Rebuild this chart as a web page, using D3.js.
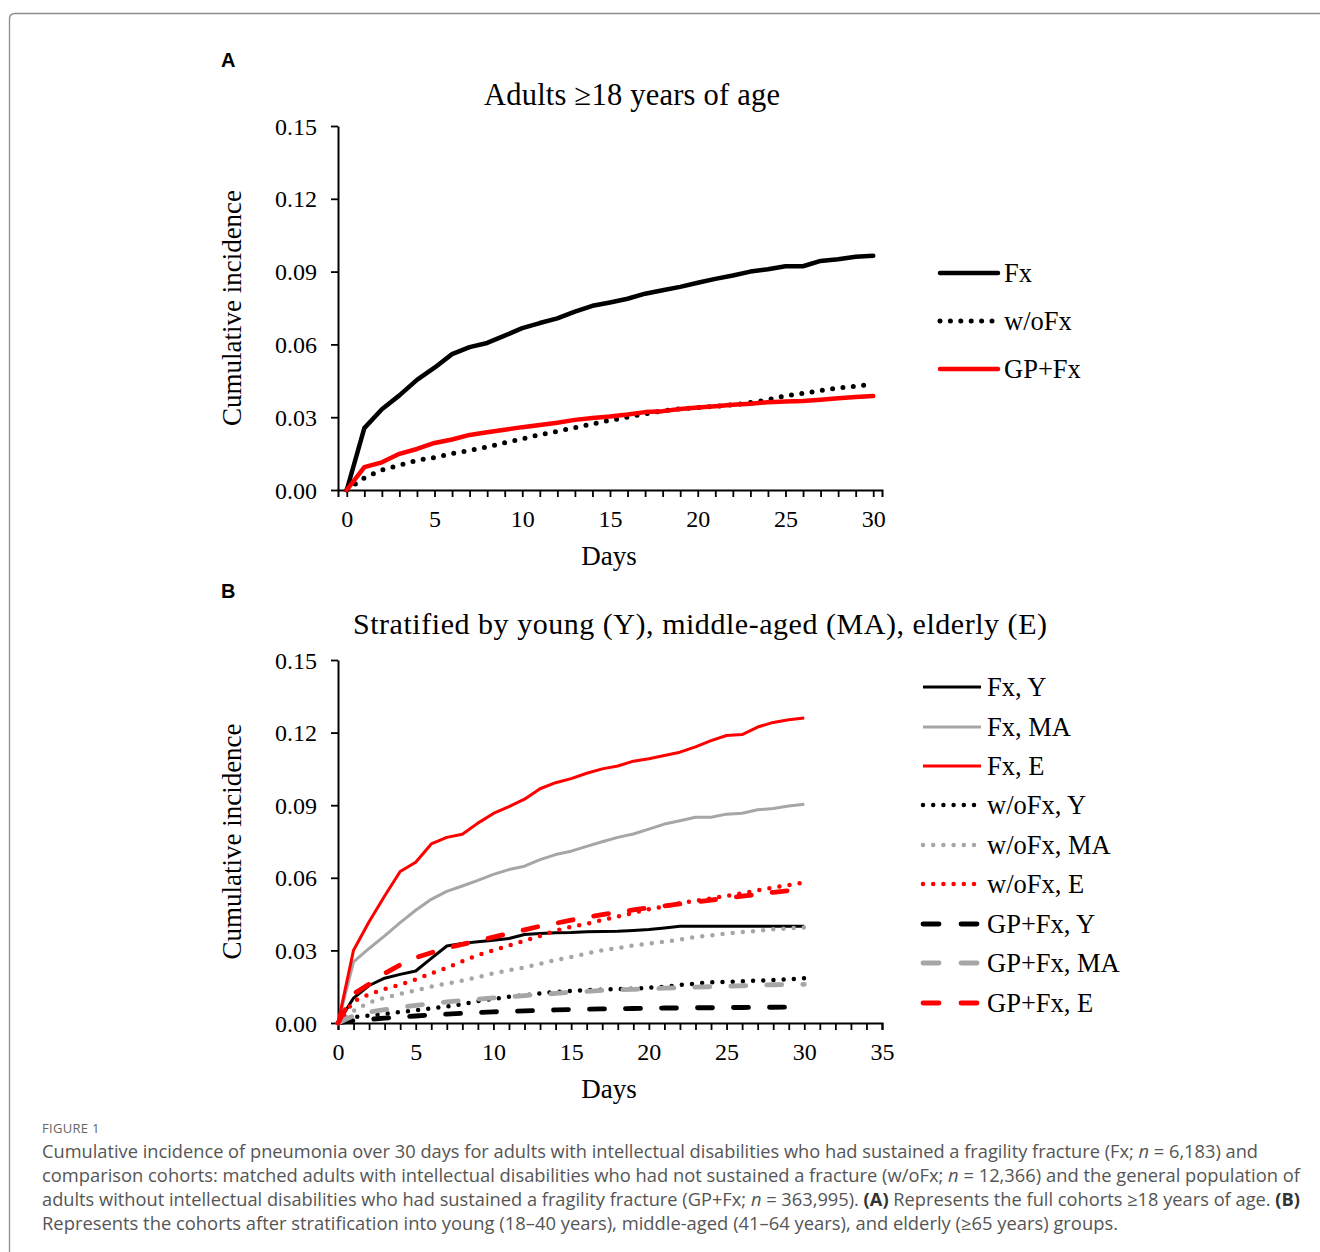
<!DOCTYPE html>
<html><head><meta charset="utf-8">
<script src="https://cdn.jsdelivr.net/npm/d3@7"></script>
<style>
body{margin:0;background:#fff;}
svg{display:block;}
</style></head>
<body>
<svg id="fig" width="1320" height="1252"></svg>
<script>
// ---------- DATA ----------
const days = [0,1,2,3,4,5,6,7,8,9,10,11,12,13,14,15,16,17,18,19,20,21,22,23,24,25,26,27,28,29,30];
const yTicks = [0, 0.03, 0.06, 0.09, 0.12, 0.15];
const xTicksA = [0,5,10,15,20,25,30];
const xTicksB = [0,5,10,15,20,25,30,35];

// Panel A
const seriesNamesA = ["Fx","w/oFx","GP+Fx"];
const fxAll   = [0,0.0255,0.0333,0.039,0.0454,0.0504,0.056,0.0589,0.0606,0.0636,0.0667,0.0688,0.0707,0.0735,0.0759,0.0773,0.0788,0.0809,0.0823,0.0837,0.0854,0.087,0.0884,0.090,0.091,0.0922,0.0922,0.0944,0.0951,0.0961,0.0965];
const wofxAll = [0,0.005,0.0082,0.0102,0.0122,0.0134,0.015,0.0163,0.0177,0.0195,0.021,0.0228,0.0242,0.0257,0.0272,0.0287,0.030,0.0314,0.0326,0.0335,0.034,0.0345,0.0351,0.036,0.0372,0.0388,0.0398,0.041,0.042,0.0428,0.0435];
const gpfxAll = [0,0.0094,0.0114,0.0149,0.0169,0.0194,0.0208,0.0227,0.0238,0.0248,0.0259,0.0268,0.0277,0.0289,0.0297,0.0303,0.0311,0.0321,0.0325,0.0334,0.034,0.0345,0.0351,0.0355,0.0362,0.0365,0.0367,0.0372,0.0378,0.0383,0.0387];

// Panel B
const seriesNamesB = ["Fx, Y","Fx, MA","Fx, E","w/oFx, Y","w/oFx, MA","w/oFx, E","GP+Fx, Y","GP+Fx, MA","GP+Fx, E"];
const fxY   = [0,0.0103,0.0155,0.0185,0.0201,0.0215,0.0267,0.0318,0.0329,0.0336,0.0342,0.0349,0.0366,0.037,0.0373,0.0374,0.0377,0.0378,0.0379,0.0382,0.0386,0.0393,0.040,0.040,0.040,0.040,0.040,0.040,0.040,0.040,0.040];
const fxMA  = [0,0.0253,0.0308,0.036,0.0415,0.0466,0.0511,0.0544,0.0566,0.0589,0.0614,0.0634,0.0648,0.0675,0.0696,0.071,0.073,0.0749,0.0767,0.0781,0.0801,0.0822,0.0836,0.085,0.085,0.0863,0.0867,0.0881,0.0886,0.0897,0.0904];
const fxE   = [0,0.0301,0.0418,0.0525,0.0626,0.0664,0.074,0.0767,0.078,0.0826,0.0866,0.0894,0.0925,0.0968,0.0993,0.101,0.1032,0.105,0.1062,0.1082,0.1092,0.1105,0.1119,0.1141,0.1167,0.1188,0.1192,0.1223,0.1242,0.1253,0.126];
const wofxY = [0,0.0025,0.003,0.0038,0.0045,0.0052,0.006,0.0068,0.0078,0.009,0.010,0.0108,0.0115,0.0122,0.0128,0.0133,0.0136,0.0138,0.014,0.0142,0.0146,0.015,0.0157,0.0163,0.0168,0.017,0.0172,0.0175,0.0178,0.0181,0.0185];
const wofxMA= [0,0.005,0.0085,0.0105,0.012,0.0135,0.015,0.0163,0.0175,0.019,0.0205,0.0218,0.023,0.0245,0.026,0.0273,0.0287,0.030,0.031,0.032,0.0328,0.0336,0.0345,0.0355,0.0362,0.037,0.0376,0.0381,0.0387,0.0391,0.0395];
const wofxE = [0,0.009,0.0118,0.014,0.0158,0.018,0.0205,0.0228,0.0255,0.028,0.030,0.032,0.034,0.036,0.0382,0.0397,0.041,0.0425,0.044,0.0455,0.047,0.0482,0.0495,0.0505,0.0515,0.0525,0.0536,0.0548,0.056,0.057,0.058];
const gpY   = [0,0.001,0.0015,0.002,0.0025,0.0029,0.0033,0.0037,0.004,0.0043,0.0046,0.0048,0.005,0.0052,0.0054,0.0056,0.0057,0.0058,0.0059,0.006,0.0061,0.0062,0.0062,0.0063,0.0063,0.0064,0.0064,0.0065,0.0065,0.0066,0.0066];
const gpMA  = [0,0.003,0.0045,0.0055,0.0065,0.0073,0.008,0.0087,0.0093,0.0098,0.0104,0.0108,0.0113,0.0118,0.0122,0.0127,0.0131,0.0135,0.0137,0.0139,0.0141,0.0144,0.0146,0.0148,0.015,0.0152,0.0154,0.0156,0.0158,0.0159,0.016];
const gpE   = [0,0.012,0.016,0.0205,0.024,0.027,0.029,0.031,0.0325,0.034,0.0355,0.037,0.0385,0.040,0.0412,0.0425,0.0437,0.0448,0.0458,0.0467,0.0476,0.0484,0.0492,0.050,0.0508,0.0516,0.0524,0.0532,0.054,0.0547,0.0553];

// ---------- STYLES ----------
const RED = "#ff0000", GRAY = "#a6a6a6", BLACK = "#000000";
const serif = "'Liberation Serif','Times New Roman',serif";

const svg = d3.select("#fig");

// frame
svg.append("path")
  .attr("d","M9.5,1252 L9.5,19 Q9.5,13.5 15,13.5 L1320,13.5")
  .attr("fill","none").attr("stroke","#8c8c8c").attr("stroke-width",1.3);

function styleLine(sel, st){
  sel.attr("fill","none").attr("stroke",st.color).attr("stroke-width",st.width)
     .attr("stroke-linecap",st.cap||"butt").attr("stroke-linejoin","round");
  if(st.dash) sel.attr("stroke-dasharray",st.dash);
}

function drawPanel(o){
  const g = svg.append("g");
  const x = d3.scaleLinear().domain(o.xDomain).range([338, 882]);
  const y = d3.scaleLinear().domain([0,0.15]).range([o.y0, o.y1]);

  // panel letter
  g.append("text").attr("x",221).attr("y",o.letterY).text(o.letter)
    .attr("font-family","'Liberation Sans',Arial,sans-serif").attr("font-weight","bold")
    .attr("font-size",20);

  // title
  g.append("text").attr("x",o.titleX).attr("y",o.titleY).attr("text-anchor","middle")
    .attr("font-family",serif).attr("font-size",o.titleSize)
    .attr("textLength",o.titleLen).attr("lengthAdjust","spacing")
    .text(o.title);

  // y axis
  const ya = d3.axisLeft(y).tickValues(yTicks).tickFormat(d3.format(".2f")).tickSize(7).tickSizeOuter(0).tickPadding(14);
  const yg = g.append("g").attr("transform","translate(338,0)").call(ya);
  yg.select(".domain").attr("stroke-width",2);
  yg.selectAll(".tick line").attr("stroke-width",1.8);
  yg.selectAll(".tick text").attr("font-family",serif).attr("font-size",24).attr("fill","#000").attr("dy","0.34em");

  // x axis
  const minorTicks = d3.range(Math.ceil(o.xDomain[0]), Math.floor(o.xDomain[1])+1);
  const xaMinor = d3.axisBottom(x).tickValues(minorTicks).tickFormat("").tickSize(7).tickSizeOuter(7);
  const xg = g.append("g").attr("transform",`translate(0,${o.y0})`).call(xaMinor);
  xg.select(".domain").attr("stroke-width",2);
  xg.selectAll(".tick line").attr("stroke-width",1.8);
  const xaLab = d3.axisBottom(x).tickValues(o.xTicks).tickSize(0).tickPadding(20);
  const xl = g.append("g").attr("transform",`translate(0,${o.y0})`).call(xaLab);
  xl.select(".domain").remove();
  xl.selectAll(".tick text").attr("font-family",serif).attr("font-size",24).attr("fill","#000");

  // axis titles
  g.append("text").attr("x",609).attr("y",o.y0+75).attr("text-anchor","middle")
    .attr("font-family",serif).attr("font-size",27).text("Days");
  g.append("text").attr("transform",`translate(241,${(o.y0+o.y1)/2}) rotate(-90)`)
    .attr("text-anchor","middle").attr("font-family",serif).attr("font-size",27)
    .text("Cumulative incidence");

  // lines
  const line = d3.line().x((d,i)=>x(days[i])).y(d=>y(d));
  o.series.forEach(s=>{
    const p = g.append("path").datum(s.values).attr("d",line);
    styleLine(p, s.style);
  });

  // legend
  o.series.forEach((s,i)=>{
    const ly = o.legY[i];
    const p = g.append("line").attr("x1",o.legX).attr("x2",o.legX+58).attr("y1",ly).attr("y2",ly);
    styleLine(p, s.legStyle || s.style);
    g.append("text").attr("x",o.legX+64).attr("y",ly+9).attr("font-family",serif).attr("font-size",26.5)
      .text(s.name);
  });
}

// Panel A
drawPanel({
  letter:"A", letterY:67,
  title:"Adults \u226518 years of age", titleX:632, titleY:105, titleSize:30.5, titleLen:296,
  xDomain:[-0.5,30.5], xTicks:xTicksA, y0:490, y1:126,
  legX:940, legY:[273,321,369],
  series:[
    {name:seriesNamesA[0], values:fxAll,   style:{color:BLACK,width:4.5,cap:"round"}},
    {name:seriesNamesA[1], values:wofxAll, style:{color:BLACK,width:5,cap:"round",dash:"0,10.4"}},
    {name:seriesNamesA[2], values:gpfxAll, style:{color:RED,width:4.5,cap:"round"}}
  ]
});

// Panel B
const solid = c => ({color:c,width:3});
const dotted = c => ({color:c,width:4.5,cap:"round",dash:"0,10.2"});
const dashed = c => ({color:c,width:4.8,cap:"round",dash:"15,21"});
drawPanel({
  letter:"B", letterY:598,
  title:"Stratified by young (Y), middle-aged (MA), elderly (E)", titleX:700, titleY:634, titleSize:30, titleLen:694,
  xDomain:[0,35], xTicks:xTicksB, y0:1023, y1:660,
  legX:923, legY:[687,727,766,805,845,884,924,963,1003],
  series:[
    {name:seriesNamesB[0], values:fxY,   style:solid(BLACK)},
    {name:seriesNamesB[1], values:fxMA,  style:solid(GRAY)},
    {name:seriesNamesB[2], values:fxE,   style:solid(RED)},
    {name:seriesNamesB[3], values:wofxY, style:dotted(BLACK)},
    {name:seriesNamesB[4], values:wofxMA,style:dotted(GRAY)},
    {name:seriesNamesB[5], values:wofxE, style:dotted(RED)},
    {name:seriesNamesB[6], values:gpY,   style:dashed(BLACK), legStyle:{color:BLACK,width:4.8,cap:"round",dash:"16,22"}},
    {name:seriesNamesB[7], values:gpMA,  style:dashed(GRAY),  legStyle:{color:GRAY,width:4.8,cap:"round",dash:"16,22"}},
    {name:seriesNamesB[8], values:gpE,   style:dashed(RED),   legStyle:{color:RED,width:4.8,cap:"round",dash:"16,22"}}
  ]
});

// ---------- CAPTION ----------
const capFont = "'Open Sans','Noto Sans',sans-serif";
svg.append("text").attr("x",42).attr("y",1133).attr("font-family",capFont).attr("font-size",13)
  .attr("fill","#666").attr("letter-spacing",0.3).text("FIGURE 1");

const capLines = [
  {y:1158, len:1216, parts:[["Cumulative incidence of pneumonia over 30 days for adults with intellectual disabilities who had sustained a fragility fracture (Fx; ",""],["n","i"],[" = 6,183) and",""]]},
  {y:1182, len:1258, parts:[["comparison cohorts: matched adults with intellectual disabilities who had not sustained a fracture (w/oFx; ",""],["n","i"],[" = 12,366) and the general population of",""]]},
  {y:1206, len:1258, parts:[["adults without intellectual disabilities who had sustained a fragility fracture (GP+Fx; ",""],["n","i"],[" = 363,995). ",""],["(A)","b"],[" Represents the full cohorts \u226518 years of age. ",""],["(B)","b"]]},
  {y:1230, len:1076, parts:[["Represents the cohorts after stratification into young (18\u201340 years), middle-aged (41\u201364 years), and elderly (\u226565 years) groups.",""]]}
];
capLines.forEach(l=>{
  const t = svg.append("text").attr("x",42).attr("y",l.y).attr("font-family",capFont)
    .attr("font-size",17.5).attr("fill","#555")
    .attr("textLength",l.len).attr("lengthAdjust","spacingAndGlyphs");
  l.parts.forEach(([s,f])=>{
    const ts = t.append("tspan").text(s);
    if(f==="i") ts.attr("font-style","italic");
    if(f==="b") ts.attr("font-weight","bold").attr("fill","#333");
  });
});
</script>
</body></html>
